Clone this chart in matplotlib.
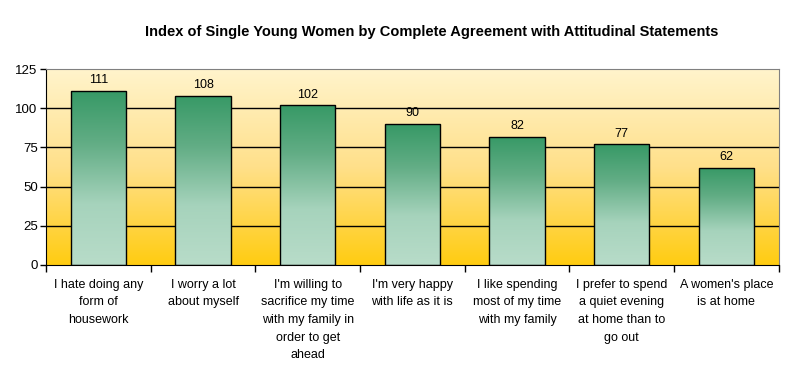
import numpy as np
import matplotlib
matplotlib.use("Agg")
import matplotlib.pyplot as plt
from matplotlib.colors import LinearSegmentedColormap

categories = [
    "I hate doing any\nform of\nhousework",
    "I worry a lot\nabout myself",
    "I'm willing to\nsacrifice my time\nwith my family in\norder to get\nahead",
    "I'm very happy\nwith life as it is",
    "I like spending\nmost of my time\nwith my family",
    "I prefer to spend\na quiet evening\nat home than to\ngo out",
    "A women's place\nis at home",
]
values = [111, 108, 102, 90, 82, 77, 62]
yticks = [0, 25, 50, 75, 100, 125]
title = "Index of Single Young Women by Complete Agreement with Attitudinal Statements"

plt.rcParams["font.family"] = ["Liberation Sans", "DejaVu Sans"]

fig = plt.figure(figsize=(7.89, 3.78), dpi=100)
ax = fig.add_axes([0.0583, 0.299, 0.9287, 0.518])

x = np.arange(len(values))

# background gradient: pale yellow at top, golden at bottom
bg_cmap = LinearSegmentedColormap.from_list("bg", ["#ffcc11", "#ffe08a", "#fff4cc"])
grad = np.linspace(0, 1, 256).reshape(-1, 1)
ax.imshow(grad, cmap=bg_cmap, origin="lower", aspect="auto",
          extent=[-0.5, len(values) - 0.5, 0, 125], zorder=0)

for v in yticks[1:-1]:
    ax.axhline(v, color="black", lw=1.0, zorder=1)

bar_cmap = LinearSegmentedColormap.from_list(
    "bar", [(0, "#b8dcc9"), (0.35, "#a6d3bc"), (0.7, "#62ad85"), (1, "#379966")])
bars = ax.bar(x, values, width=0.53, facecolor="none", edgecolor="black",
              lw=1.0, zorder=3)
for b, v in zip(bars, values):
    bx, by = b.get_xy()
    im = ax.imshow(grad, cmap=bar_cmap, origin="lower", aspect="auto",
                   extent=[bx, bx + b.get_width(), by, by + b.get_height()],
                   zorder=2)
    im.set_clip_path(b)
    ax.text(bx + b.get_width() / 2, v + 3, str(v),
            ha="center", va="bottom", fontsize=9, zorder=4)

ax.set_xlim(-0.5, len(values) - 0.5)
ax.set_ylim(0, 125)

ax.set_yticks(yticks)
ax.set_yticklabels([str(t) for t in yticks], fontsize=9.5)
ax.tick_params(axis="y", length=4, width=1, pad=2)

ax.set_xticks(np.arange(len(values) + 1) - 0.5, minor=False)
ax.set_xticklabels([])
ax.set_xticks(x, minor=True)
ax.set_xticklabels(categories, minor=True, fontsize=9, linespacing=1.62)
ax.tick_params(axis="x", which="major", length=5, width=1)
ax.tick_params(axis="x", which="minor", length=0, pad=10)

for s in ["top", "right"]:
    ax.spines[s].set_color("#808080")
ax.spines["left"].set_color("black")
ax.spines["bottom"].set_color("black")

fig.text(0.547, 0.915, title, ha="center", va="center", fontsize=10.5,
         fontweight="bold")

fig.savefig("out.png", dpi=100, facecolor="white")
